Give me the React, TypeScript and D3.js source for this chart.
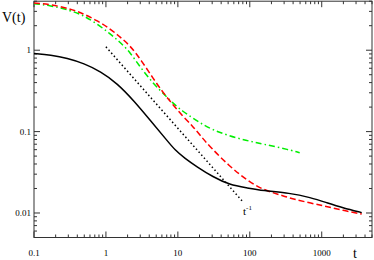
import React from "react";
import * as d3 from "d3";

const tBlack = [0.1, 0.171, 0.29, 0.495, 0.843, 1.44, 2.45, 4.18, 7.1, 9.08, 12.5, 18.4, 30.6, 52.7, 90.8, 151, 360, 700, 1172, 1950, 3600];
const vBlack = [0.91, 0.87, 0.8, 0.687, 0.548, 0.391, 0.239, 0.136, 0.0774, 0.0596, 0.047, 0.037, 0.0278, 0.0222, 0.0204, 0.0188, 0.0176, 0.0155, 0.0134, 0.0116, 0.0101];

const tRed = [0.1, 0.167, 0.316, 0.484, 0.743, 1.14, 1.56, 2.15, 3.1, 4.54, 6.25, 8.61, 11.9, 16.3, 20.2, 27.8, 52.7, 90, 151, 261, 395, 1172, 1950, 3600];
const vRed = [3.8, 3.66, 3.24, 2.81, 2.33, 1.84, 1.46, 1.15, 0.75, 0.45, 0.3, 0.212, 0.152, 0.115, 0.091, 0.0654, 0.0372, 0.0256, 0.0193, 0.0168, 0.0148, 0.012, 0.0108, 0.0097];

const tGreen = [0.1, 0.167, 0.316, 0.484, 0.743, 1.14, 1.56, 2.15, 2.97, 4.54, 6.25, 8.61, 11.9, 16.3, 22.5, 30.9, 47.4, 90, 151, 360, 494];
const vGreen = [3.72, 3.56, 3.09, 2.68, 2.12, 1.6, 1.26, 0.953, 0.625, 0.391, 0.295, 0.222, 0.175, 0.146, 0.121, 0.105, 0.091, 0.0774, 0.0706, 0.0596, 0.055];

const tDotted = [1, 80];
const vDotted = [1.1, 1.1 / 80];

const xTickLabels = ["0.1", "1", "10", "100", "1000"];
const yTickLabels = ["0.01", "0.1", "1"];

const W = 374, H = 260;
const L = 34, R = 372, T = 1.2, B = 237.5;

export default function App() {
  const x = d3.scaleLog().domain([0.1, 5000]).range([L, R]);
  const y = d3.scaleLog().domain([0.005, 4]).range([B, T]);

  const line = (ts: number[], vs: number[], curve: d3.CurveFactory = d3.curveBasis) =>
    d3.line<number>()
      .x((_, i) => x(ts[i]))
      .y((_, i) => y(vs[i]))
      .curve(curve)(ts.map((_, i) => i)) || "";

  const xMajor = xTickLabels.map(Number);
  const xMinor: number[] = [];
  for (let e = -1; e <= 3; e++) for (let k = 2; k <= 9; k++) {
    const v = k * Math.pow(10, e);
    if (v <= 5000) xMinor.push(v);
  }
  const yMajor = yTickLabels.map(Number);
  const yMinor: number[] = [];
  for (let e = -3; e <= 0; e++) for (let k = 2; k <= 9; k++) {
    const v = k * Math.pow(10, e);
    if (v >= 0.005 && v <= 4.001) yMinor.push(v);
  }

  const ax = "#333";
  const font = "'Liberation Serif', 'DejaVu Serif', serif";

  return (
    <svg width={W} height={H} style={{ position: "absolute", left: 0, top: 0, background: "#fff" }} fontFamily={font}>
      <rect x={L} y={T} width={R - L} height={B - T} fill="none" stroke={ax} strokeWidth={1} />
      {xMajor.map((v) => (
        <g key={"xM" + v}>
          <line x1={x(v)} x2={x(v)} y1={B} y2={B - 6} stroke={ax} />
          <line x1={x(v)} x2={x(v)} y1={T} y2={T + 6} stroke={ax} />
        </g>
      ))}
      {xMinor.map((v) => (
        <g key={"xm" + v}>
          <line x1={x(v)} x2={x(v)} y1={B} y2={B - 3} stroke={ax} />
          <line x1={x(v)} x2={x(v)} y1={T} y2={T + 3} stroke={ax} />
        </g>
      ))}
      {yMajor.map((v) => (
        <g key={"yM" + v}>
          <line x1={L} x2={L + 6} y1={y(v)} y2={y(v)} stroke={ax} />
          <line x1={R} x2={R - 6} y1={y(v)} y2={y(v)} stroke={ax} />
        </g>
      ))}
      {yMinor.map((v) => (
        <g key={"ym" + v}>
          <line x1={L} x2={L + 3} y1={y(v)} y2={y(v)} stroke={ax} />
          <line x1={R} x2={R - 3} y1={y(v)} y2={y(v)} stroke={ax} />
        </g>
      ))}
      {xTickLabels.map((s) => (
        <text key={"xl" + s} x={x(Number(s))} y={256} fontSize={9} textAnchor="middle" fill="#000">{s}</text>
      ))}
      {yTickLabels.map((s) => (
        <text key={"yl" + s} x={L - 3} y={y(Number(s)) + 3} fontSize={9} textAnchor="end" fill="#000">{s}</text>
      ))}
      <text x={2} y={22} fontSize={14} fill="#000">V(t)</text>
      <text x={353} y={258} fontSize={14} fill="#000">t</text>
      <text x={243} y={215} fontSize={11} fill="#000">t<tspan dy={-5} fontSize={7}>-1</tspan></text>

      <path d={line(tDotted, vDotted, d3.curveLinear)} fill="none" stroke="#000" strokeWidth={1.5} strokeDasharray="1.5,2.5" />
      <path d={line(tGreen, vGreen)} fill="none" stroke="#00ee00" strokeWidth={1.5} strokeDasharray="6,3,1.5,3" />
      <path d={line(tRed, vRed)} fill="none" stroke="#ff0000" strokeWidth={1.5} strokeDasharray="6,3" />
      <path d={line(tBlack, vBlack)} fill="none" stroke="#000" strokeWidth={1.5} />
    </svg>
  );
}
